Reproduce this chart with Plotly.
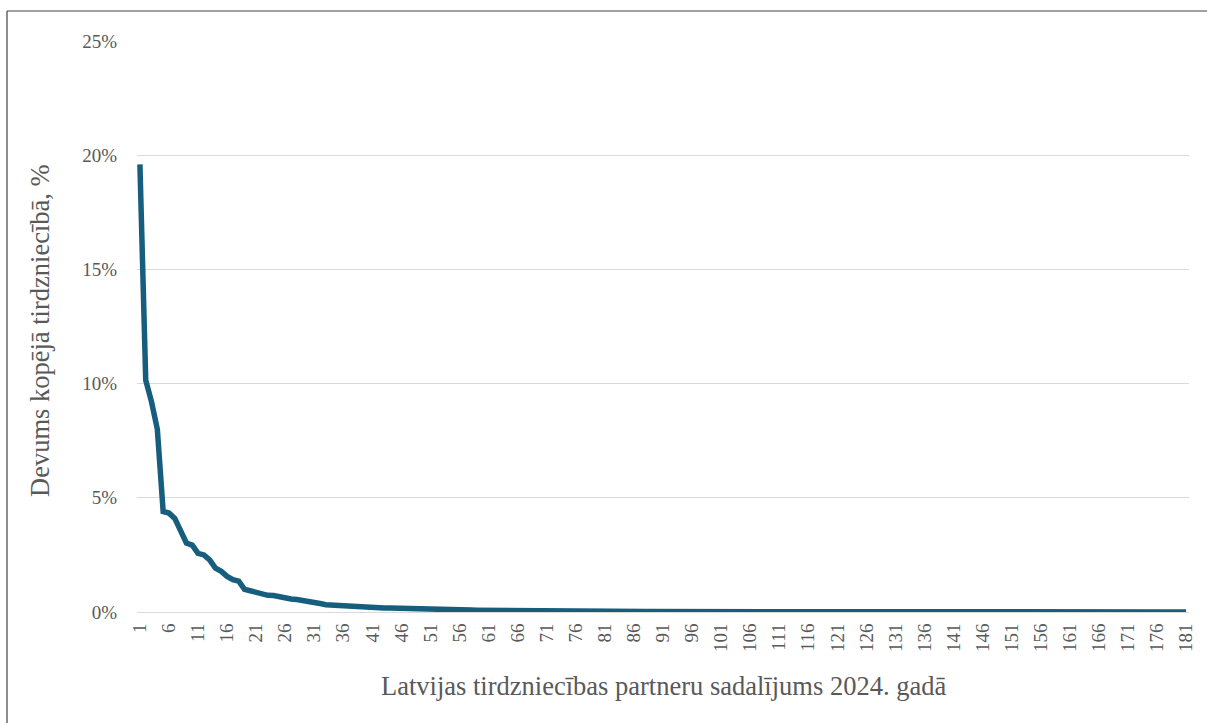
import plotly.graph_objects as go

partners = list(range(1, 182))

share = [
    19.6, 10.15, 9.2, 8.0, 4.4, 4.33, 4.1, 3.5, 3.02, 2.93,
    2.57, 2.5, 2.28, 1.92, 1.78, 1.56, 1.42, 1.35, 0.99, 0.93,
    0.86, 0.78, 0.73, 0.72, 0.66, 0.64, 0.57, 0.55, 0.49, 0.43,
    0.40, 0.37, 0.32, 0.30, 0.30, 0.29, 0.28, 0.26, 0.23, 0.20,
    0.19, 0.18, 0.17, 0.17, 0.16, 0.15, 0.15, 0.14, 0.13, 0.13,
    0.12, 0.11, 0.11, 0.10, 0.10, 0.09, 0.09, 0.085, 0.08, 0.08,
    0.075, 0.07, 0.07, 0.065, 0.06, 0.06, 0.055, 0.05, 0.05, 0.048,
    0.045, 0.043, 0.04, 0.038, 0.036, 0.034, 0.032, 0.03, 0.029, 0.028,
    0.027, 0.026, 0.025, 0.024, 0.023, 0.022, 0.021, 0.02, 0.019, 0.018,
    0.017, 0.016, 0.015, 0.015, 0.014, 0.013, 0.013, 0.012, 0.012, 0.011,
    0.011, 0.010, 0.010, 0.009, 0.009, 0.009, 0.008, 0.008, 0.008, 0.007,
    0.007, 0.007, 0.006, 0.006, 0.006, 0.006, 0.005, 0.005, 0.005, 0.005,
    0.004, 0.004, 0.004, 0.004, 0.004, 0.003, 0.003, 0.003, 0.003, 0.003,
    0.003, 0.002, 0.002, 0.002, 0.002, 0.002, 0.002, 0.002, 0.002, 0.001,
    0.001, 0.001, 0.001, 0.001, 0.001, 0.001, 0.001, 0.001, 0.001, 0.001,
    0.001, 0.001, 0.001, 0.0005, 0.0005, 0.0005, 0.0005, 0.0005, 0.0005, 0.0005,
    0.0005, 0.0005, 0.0005, 0.0004, 0.0004, 0.0004, 0.0003, 0.0003, 0.0003, 0.0002,
    0.0002, 0.0002, 0.0002, 0.0001, 0.0001, 0.0001, 0.0001, 0.0001, 0.0001, 0.0,
    0.0,
]

x_tick_vals = list(range(1, 182, 5))
x_tick_text = [str(v) for v in x_tick_vals]
y_tick_vals = [0, 5, 10, 15, 20, 25]
y_tick_text = ["0%", "5%", "10%", "15%", "20%", "25%"]

x_title = "Latvijas tirdzniecības partneru sadalījums 2024. gadā"
y_title = "Devums kopējā tirdzniecībā, %"

FONT = "Liberation Serif"
GRAY = "#595959"

fig = go.Figure()
fig.add_trace(go.Scatter(
    x=partners, y=share, mode="lines",
    line=dict(color="#175E7E", width=5.5),
    showlegend=False, hoverinfo="x+y",
))

W, H = 1207, 723
L, R, T, B = 137, 18, 41, 111
pw, ph = W - L - R, H - T - B

fig.update_layout(
    width=W, height=H,
    margin=dict(l=L, r=R, t=T, b=B),
    paper_bgcolor="white", plot_bgcolor="white",
    font=dict(family=FONT, color=GRAY, size=19),
    xaxis=dict(
        range=[0.5, 181.5], tickmode="array", tickvals=x_tick_vals, ticktext=x_tick_text,
        tickangle=-90, showgrid=False, zeroline=False, showline=False,
        ticks="outside", ticklen=3, tickcolor="rgba(0,0,0,0)",
        tickfont=dict(family=FONT, size=19, color=GRAY),
        fixedrange=True,
    ),
    yaxis=dict(
        range=[0, 25], tickmode="array", tickvals=y_tick_vals, ticktext=y_tick_text,
        showgrid=True, gridcolor="#D9D9D9", gridwidth=1.3,
        zeroline=True, zerolinecolor="#D9D9D9", zerolinewidth=1.3, showline=False,
        ticks="outside", ticklen=15, tickcolor="rgba(0,0,0,0)",
        tickfont=dict(family=FONT, size=19, color=GRAY),
        fixedrange=True,
    ),
    annotations=[
        dict(text=x_title, xref="paper", yref="paper", x=(663 - L) / pw, y=(H - B - 686) / ph,
             xanchor="center", yanchor="middle", showarrow=False,
             font=dict(family=FONT, size=26.5, color=GRAY)),
        dict(text=y_title, xref="paper", yref="paper", x=(40 - L) / pw, y=(H - B - 331) / ph,
             xanchor="center", yanchor="middle", showarrow=False, textangle=-90,
             font=dict(family=FONT, size=26.5, color=GRAY)),
    ],
    shapes=[
        dict(type="line", xref="paper", yref="paper",
             x0=(7 - L) / pw, x1=(W + 5 - L) / pw, y0=(H - B - 11) / ph, y1=(H - B - 11) / ph,
             line=dict(color="#404040", width=1.2)),
        dict(type="line", xref="paper", yref="paper",
             x0=(7 - L) / pw, x1=(7 - L) / pw, y0=(H - B - 11) / ph, y1=-(B + 10) / ph,
             line=dict(color="#404040", width=1.2)),
    ],
)

fig.write_html(
    "out.html",
    config={"displayModeBar": False},
    post_script="document.body.style.margin='0';document.body.style.overflow='hidden';",
)
